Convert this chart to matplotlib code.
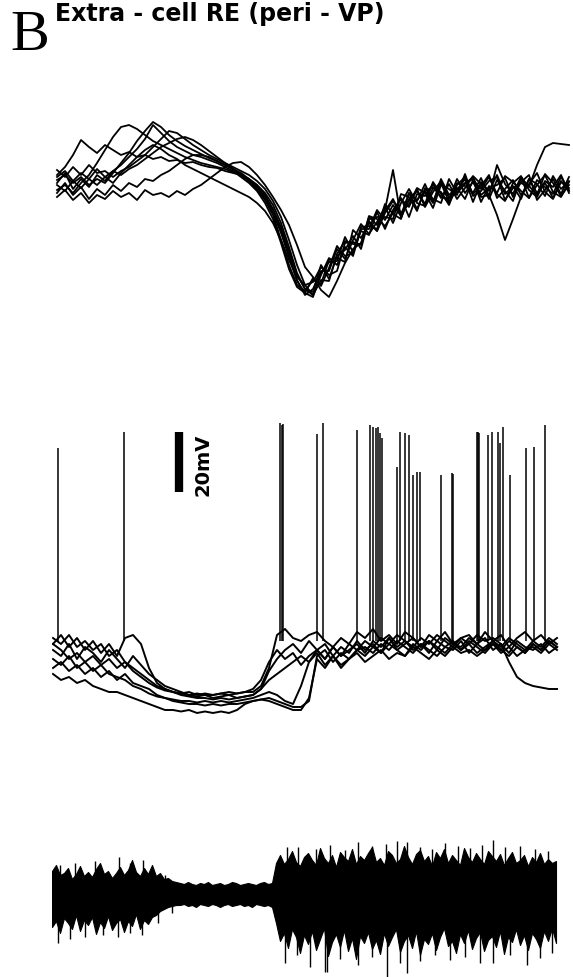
import numpy as np
import matplotlib.pyplot as plt

# figure B : extracellular field (top), intracellular RE cell (middle), multiunit (bottom)
W, H = 573, 977

####################### data
# top : field potential, 9 sweeps, sampled every 16 ms starting at 10 ms
t_top = np.arange(65) * 16 + 10
lfp_1 = [5, 10, 2, 8, 0, 6, 2, 12,
         22, 32, 44, 54, 63, 58, 50, 44,
         39, 35, 31, 27, 24, 20, 16, 12,
         6, -2, -12, -25, -45, -70, -95, -110,
         -104, -86, -86, -64, -74, -55, -39, -49,
         -37, -22, -38, -18, -4, -18, -21, -3,
         -7, -20, 0, 8, -9, -1, 10, -13,
         -4, 5, -10, 1, 12, -7, -14, 3,
         -3]
lfp_2 = [10, 18, 30, 45, 38, 32, 40, 35,
         30, 33, 28, 30, 26, 28, 24, 25,
         22, 23, 20, 18, 17, 14, 12, 10,
         4, -4, -15, -30, -55, -80, -100, -106,
         -95, -99, -75, -73, -77, -45, -53, -38,
         -46, -28, -16, -28, -19, -3, -8, -23,
         0, -4, -10, 11, -11, -6, 4, 8,
         -15, -3, 2, -2, 20, 38, 42, 41,
         40]
lfp_3 = [-5, 0, -8, 2, 10, 22, 35, 48,
         58, 60, 56, 50, 44, 40, 36, 32,
         28, 25, 22, 20, 18, 16, 13, 10,
         6, 0, -8, -20, -38, -62, -88, -104,
         -110, -90, -73, -80, -62, -71, -44, -44,
         -25, -35, -20, -31, -15, -16, 1, -17,
         2, -17, -4, 2, 6, -17, -1, -8,
         9, 3, -6, -13, 5, -2, -9, 8,
         -5]
lfp_4 = [15, 8, 18, 10, 20, 12, 14, 8,
         14, 18, 24, 30, 38, 46, 54, 52,
         46, 40, 35, 30, 26, 22, 18, 14,
         10, 4, -4, -16, -32, -55, -80, -100,
         -110, -95, -96, -69, -56, -59, -59, -31,
         -34, -41, -28, -13, -32, -9, -11, 1,
         -13, 1, -14, -3, 9, 1, -14, 5,
         -6, -16, 7, -1, -10, 11, 2, -11,
         0]
lfp_5 = [-12, -5, -15, -8, -18, -10, -14, -6,
         -12, -8, -15, -5, -10, -8, -12, -6,
         -10, -4, 0, 6, 12, 18, 22, 23,
         18, 10, 0, -12, -25, -40, -60, -82,
         -92, -105, -112, -96, -78, -64, -58, -36,
         -46, -26, -14, -30, -8, -24, -6, -2,
         -12, -14, 6, -8, 3, -12, -10, -30,
         -55, -34, -12, 6, -8, 2, -13, 4,
         -6]
lfp_6 = [0, -6, 4, -3, 6, 0, 8, 2,
         12, 20, 28, 35, 40, 36, 30, 26,
         20, 16, 12, 8, 4, 0, -4, -8,
         -12, -18, -26, -38, -55, -75, -92, -100,
         -97, -82, -90, -86, -58, -57, -60, -32,
         -40, -25, 15, -33, -14, -6, -19, 3,
         -9, -18, 2, -1, -8, 7, -11, 20,
         1, -9, 8, -13, 0, 10, -7, -12,
         3]
lfp_7 = [8, 14, 4, 12, 6, 16, 8, 14,
         10, 16, 20, 26, 32, 38, 42, 46,
         48, 45, 40, 34, 28, 22, 16, 10,
         4, -4, -14, -28, -48, -72, -96, -108,
         -112, -88, -77, -76, -52, -67, -46, -50,
         -27, -44, -25, -14, -22, -4, -22, -7,
         4, -13, -5, 6, -17, 3, -6, 10,
         -9, -1, -14, 6, 1, -11, 9, -4,
         4]
lfp_8 = [2, 12, -4, 6, -2, 10, 4, 14,
         20, 28, 36, 46, 60, 52, 44, 38,
         34, 30, 28, 25, 22, 18, 14, 8,
         2, -6, -18, -34, -58, -84, -102, -108,
         -93, -101, -83, -61, -71, -68, -42, -41,
         -44, -19, -29, -34, -8, -15, -6, -18,
         6, -10, -3, -14, 5, -4, 8, -9,
         -16, 2, 9, -5, -12, 4, -2, 10,
         -8]
lfp_9 = [-8, 2, -10, -2, -14, -4, -10, 0,
         -6, 2, -2, 6, 4, 10, 14, 20,
         26, 30, 30, 28, 24, 20, 16, 10,
         6, 0, -10, -24, -42, -66, -90, -104,
         -107, -80, -94, -71, -65, -51, -64, -34,
         -32, -32, -34, -9, -12, -26, -3, -14,
         -18, 6, -8, 1, 8, -10, -3, 0,
         7, -12, 3, 10, -15, -5, 6, -9,
         8]

# middle : membrane potential (mV), 7 sweeps, every 16 ms starting at 2 ms
t_mid = np.arange(64) * 16 + 2
vm_1 = [-58, -55, -59, -56, -60, -57, -61, -58,
        -62, -56, -55, -58, -66, -71, -73, -74,
        -74.5, -75, -74.5, -75, -75, -74.5, -75, -74.5,
        -74, -74, -72, -66, -55, -53, -56, -57,
        -55, -54, -57, -59, -56, -58, -54, -56,
        -53, -57, -55, -58, -54, -56, -59, -55,
        -57, -54, -58, -56, -55, -58, -54, -57,
        -55, -59, -56, -54, -57, -55, -58, -56]
vm_2 = [-60, -62, -58, -63, -59, -61, -64, -60,
        -63, -66, -62, -65, -68, -70, -72, -73,
        -74, -75, -75.5, -75, -76, -75.5, -75, -76,
        -75.5, -75, -73, -67, -63, -60, -58, -61,
        -57, -60, -58, -62, -59, -61, -57, -60,
        -58, -61, -56, -59, -57, -60, -58, -61,
        -57, -59, -60, -57, -61, -58, -56, -60,
        -58, -61, -57, -59, -60, -58, -61, -59]
vm_3 = [-66, -64, -67, -65, -68, -66, -69, -67,
        -70, -68, -71, -72, -73, -75, -76, -77,
        -77.5, -78, -78, -78.5, -78, -78.5, -78, -78,
        -77.5, -77, -76.5, -76, -77, -78, -79, -79,
        -77, -62, -60, -64, -61, -63, -60, -59,
        -61, -58, -60, -57, -59, -61, -58, -60,
        -62, -59, -57, -60, -58, -61, -59, -57,
        -60, -62, -59, -61, -58, -60, -57, -59]
vm_4 = [-68, -70, -69, -71, -70, -72, -73, -74,
        -74, -75, -76, -77, -78, -79, -80, -80,
        -80.5, -80, -81, -80.5, -81, -80.5, -81, -80,
        -78, -77, -76.5, -77, -78, -79, -80, -80,
        -76, -63, -66, -62, -65, -63, -61, -64,
        -62, -60, -63, -61, -62, -59, -61, -63,
        -60, -62, -59, -61, -60, -62, -60, -58,
        -61, -59, -62, -60, -59, -61, -58, -60]
vm_5 = [-56, -58, -55, -59, -57, -60, -58, -62,
        -60, -64, -66, -68, -70, -72, -73, -74,
        -75, -75.5, -76, -76, -76.5, -76, -76.5, -76,
        -75.5, -75, -73, -70, -68, -66, -64, -62,
        -64, -60, -63, -59, -62, -58, -60, -57,
        -59, -56, -58, -55, -57, -59, -56, -58,
        -55, -57, -59, -56, -58, -55, -57, -56,
        -58, -64, -69, -71, -72, -72.5, -73, -73]
vm_6 = [-58, -60, -63, -61, -64, -62, -65, -63,
        -66, -64, -67, -69, -71, -72.5, -73.5, -74,
        -74.5, -74, -75, -74.5, -75, -74.5, -74, -74.5,
        -74, -73, -70, -64, -60, -63, -61, -65,
        -62, -60, -63, -59, -62, -60, -58, -61,
        -57, -59, -56, -60, -58, -56, -59, -57,
        -60, -56, -58, -59, -56, -58, -60, -57,
        -59, -56, -58, -60, -57, -59, -56, -58]
vm_7 = [-63, -65, -62, -66, -64, -67, -65, -68,
        -69, -70, -72, -73, -74.5, -75.5, -76, -76.5,
        -77, -77, -77.5, -77, -77.5, -77, -77.5, -77,
        -76.5, -76, -75, -74, -75, -77, -78, -72,
        -64, -61, -65, -62, -66, -63, -60, -62,
        -59, -61, -58, -60, -62, -58, -60, -57,
        -59, -61, -58, -60, -57, -59, -61, -58,
        -60, -57, -59, -61, -58, -60, -57, -59]

# action potentials : time (ms) and peak (mV)
spike_t = [12, 144, 456, 459, 462, 530, 542, 610, 636, 642, 648, 652, 656, 660,
           690, 696, 706, 714, 722, 730, 736, 778, 800, 802, 850, 852, 854,
           872, 880, 892, 896, 902, 916, 948, 964, 986]
spike_peak = [7.3, 12.7, 15.7, 15, 15.3, 12, 15.7, 13.3, 15, 14.3, 14, 14.3, 12.3, 10.7,
              1, 12.7, 12.3, 11.7, -1.7, -0.7, -0.7, -1.7, -1, -1.3, 12.7, 12.7, 12.3,
              11.7, 12.7, 12.7, 9, 14.3, -1.7, 7.3, 7.7, 15]
spike_base = -57
scale_mV = 20

# bottom : multiunit envelope (uV), every 8 ms
t_bot = np.arange(127) * 8
mua_hi = [22, 28, 18, 20, 25, 14, 19, 27, 17, 21,
          16, 24, 30, 19, 22, 15, 20, 26, 18, 23,
          33, 21, 17, 25, 19, 28,
          17, 20, 14, 15, 12, 11,
          10, 9, 11, 9, 8, 10, 9, 11, 8, 9,
          10, 8, 9, 11, 10, 8, 9, 10, 9, 8,
          10, 11, 9, 10,
          30,
          38, 29, 34, 42, 31, 27, 36, 40, 33, 28,
          45, 35, 30, 38, 26, 41, 36, 32, 44, 29,
          37, 33, 40, 46, 31, 35, 28, 42, 38, 30,
          34, 47, 36, 29, 39, 43, 32, 37, 27, 41,
          35, 44, 30, 38, 33, 28, 45, 36, 31, 40,
          34, 29, 42, 37, 32, 39, 28, 35, 41, 30,
          33, 38, 27, 36, 31, 40, 29, 34, 30, 32]
mua_lo = [-34, -28, -40, -25, -30, -36, -22, -38, -27, -32,
          -24, -41, -29, -35, -23, -37, -30, -26, -39, -28,
          -33, -21, -36, -27, -31, -24,
          -22, -18, -16, -14, -13, -12,
          -12, -11, -13, -12, -14, -11, -12, -13, -11, -12,
          -14, -12, -11, -13, -12, -11, -13, -12, -14, -11,
          -12, -13, -12, -14,
          -30,
          -48, -40, -55, -36, -44, -60, -42, -51, -38, -57,
          -46, -35, -63, -49, -41, -54, -37, -58, -45, -66,
          -43, -50, -39, -56, -47, -61, -40, -53, -44, -36,
          -59, -48, -42, -55, -38, -62, -46, -51, -40, -57,
          -44, -35, -53, -48, -60, -41, -50, -37, -56, -45,
          -39, -58, -47, -43, -54, -38, -61, -44, -49, -36,
          -52, -42, -57, -40, -46, -55, -38, -48, -35, -50]
# single large units poking out of the envelope
mua_up_t = [16, 46, 86, 134, 156, 182, 226,
            470, 492, 528, 556, 586, 612, 640, 668, 690, 710, 736, 760, 786,
            812, 836, 860, 882, 906, 936, 966, 992]
mua_up_v = [28, 30, 32, 36, 30, 33, 18,
            46, 46, 44, 48, 43, 51, 47, 49, 52, 51, 46, 44, 50,
            47, 45, 48, 53, 46, 47, 44, 42]
mua_dn_t = [12, 36, 66, 102, 132, 156, 180, 212, 240,
            466, 490, 516, 546, 550, 576, 612, 640, 670, 696, 710, 736, 766,
            796, 826, 856, 882, 916, 950, 976, 1000]
mua_dn_v = [-50, -46, -44, -42, -44, -40, -42, -30, -20,
            -70, -62, -74, -79, -79, -66, -72, -64, -84, -70, -80, -68, -62,
            -67, -64, -70, -70, -62, -72, -65, -60]
####################### data


def place(fig, x0, y0, x1, y1):
    # axes from a pixel box (top-left origin)
    ax = fig.add_axes([x0 / W, 1 - y1 / H, (x1 - x0) / W, (y1 - y0) / H])
    ax.axis("off")
    return ax


fig = plt.figure(figsize=(W / 100, H / 100), dpi=100)
fig.patch.set_facecolor("white")

# 1. top panel
ax1 = place(fig, 52, 100, 572, 320)
for tr in [lfp_1, lfp_2, lfp_3, lfp_4, lfp_5, lfp_6, lfp_7, lfp_8, lfp_9]:
    ax1.plot(t_top, tr, color="black", lw=1.3)
ax1.set_xlim(0, 1040)
ax1.set_ylim(-135, 85)

# 2. middle panel
ax2 = place(fig, 52, 400, 572, 730)
for tr in [vm_1, vm_2, vm_3, vm_4, vm_5, vm_6, vm_7]:
    ax2.plot(t_mid, tr, color="black", lw=1.4)
ax2.vlines(spike_t, spike_base, spike_peak, color="black", lw=1.1)
ax2.plot([254, 254], [-7.3, -7.3 + scale_mV], color="black", lw=6, solid_capstyle="butt")
ax2.text(302, 1.7, "20mV", rotation=90, ha="center", va="center",
         fontsize=14, fontweight="bold", family="DejaVu Sans")
ax2.set_xlim(0, 1040)
ax2.set_ylim(-86.67, 23.33)

# 3. bottom panel
ax3 = place(fig, 52, 800, 572, 977)
ax3.fill_between(t_bot, mua_lo, mua_hi, color="black", lw=0.8)
ax3.vlines(mua_up_t, 0, mua_up_v, color="black", lw=1.0)
ax3.vlines(mua_dn_t, 0, mua_dn_v, color="black", lw=1.0)
ax3.set_xlim(0, 1040)
ax3.set_ylim(-84, 93)

# labels
fig.text(10 / W, 1 - 10 / H, "B", fontsize=42, family="Liberation Serif",
         va="top", ha="left")
fig.text(55 / W, 1 - 21 / H, "Extra - cell RE (peri - VP)", fontsize=17,
         fontweight="bold", family="DejaVu Sans", va="baseline", ha="left")

fig.savefig("out.png", dpi=100)
